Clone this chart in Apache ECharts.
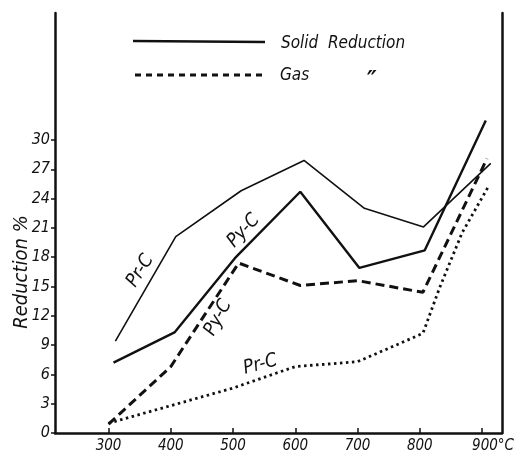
<!DOCTYPE html>
<html><head><meta charset="utf-8">
<script src="https://cdn.jsdelivr.net/npm/echarts@6/dist/echarts.min.js"></script>
<style>html,body{margin:0;padding:0;background:#fff}#c{width:517px;height:459px}</style>
</head><body><div id="c"></div>
<script>
const xTicks = [300, 400, 500, 600, 700, 800, 900];
const yTicks = [0, 3, 6, 9, 12, 15, 18, 21, 24, 27, 30];
const solidPrC = [[311, 9.4], [408, 20.1], [513, 24.8], [614, 27.9], [711, 23.0], [806, 21.1], [914, 27.6]];
const solidPyC = [[308, 7.2], [406, 10.3], [503, 17.9], [608, 24.7], [703, 16.9], [808, 18.7], [906, 32.0]];
const gasPyC = [[300, 0.9], [400, 6.8], [509, 17.4], [608, 15.1], [700, 15.6], [805, 14.4], [908, 28.1]];
const gasPrC = [[300, 1.0], [400, 2.8], [500, 4.6], [600, 6.8], [700, 7.3], [751, 8.7], [805, 10.2], [832, 14.9], [868, 20.5], [909, 25.1]];
const legendTexts = ['Solid  Reduction', 'Gas', '\u2033'];

const FONT = "'Liberation Sans Narrow','DejaVu Sans Condensed','Liberation Sans',sans-serif";
const chart = echarts.init(document.getElementById('c'));
function lbl(txt, coord, rot) {
  return { coord: coord, symbolSize: 0, label: { show: true, formatter: txt, rotate: rot,
    fontFamily: FONT, fontStyle: 'italic', fontSize: 19, color: '#111', position: 'inside' } };
}
chart.setOption({
  backgroundColor: '#fff',
  animation: false,
  grid: { left: 55, right: 10, top: 13, bottom: 26 },
  xAxis: {
    type: 'value', min: 214, max: 932,
    axisLine: { lineStyle: { color: '#111', width: 2.5 } },
    axisTick: { show: true, inside: true, length: 5, customValues: xTicks, lineStyle: { color: '#111', width: 1.5 } },
    axisLabel: { customValues: xTicks, fontFamily: FONT, fontStyle: 'italic', fontSize: 15, color: '#111', margin: 6,
      formatter: v => v === 900 ? '{c|900°C}' : String(v),
      rich: { c: { fontFamily: FONT, fontStyle: 'italic', fontSize: 15, color: '#111', padding: [0, 0, 0, 22] } } },
    splitLine: { show: false }
  },
  yAxis: [{
    type: 'value', min: 0, max: 43,
    axisLine: { show: true, lineStyle: { color: '#111', width: 2.5 } },
    axisTick: { show: true, length: 4, customValues: yTicks, lineStyle: { color: '#111', width: 1.5 } },
    axisLabel: { customValues: yTicks, fontFamily: FONT, fontStyle: 'italic', fontSize: 16, color: '#111', margin: 5 },
    splitLine: { show: false }
  }, {
    type: 'value', min: 0, max: 43, position: 'right',
    axisLine: { show: true, lineStyle: { color: '#111', width: 2.5 } },
    axisTick: { show: false }, axisLabel: { show: false }, splitLine: { show: false }
  }],
  series: [
    { type: 'line', data: solidPrC, symbol: 'none', lineStyle: { color: '#111', width: 1.6 },
      markPoint: { data: [lbl('Pr-C', [351, 16.6], 58)] } },
    { type: 'line', data: solidPyC, symbol: 'none', lineStyle: { color: '#111', width: 2.4 },
      markPoint: { data: [lbl('Py-C', [517, 20.7], 47)] } },
    { type: 'line', data: gasPyC, symbol: 'none', lineStyle: { color: '#111', width: 3, type: [9, 5] },
      markPoint: { data: [lbl('Py-C', [476, 11.8], 62)] } },
    { type: 'line', data: gasPrC, symbol: 'none', lineStyle: { color: '#111', width: 2.8, type: [2.5, 3.5] },
      markPoint: { data: [lbl('Pr-C', [544, 7.0], 15)] } }
  ],
  graphic: [
    { type: 'line', shape: { x1: 133, y1: 41, x2: 265, y2: 42 }, style: { stroke: '#111', lineWidth: 2.5 } },
    { type: 'text', x: 281, y: 44, style: { text: legendTexts[0], font: "italic 17px " + FONT, fill: '#111', verticalAlign: 'middle' } },
    { type: 'line', shape: { x1: 135, y1: 75, x2: 262, y2: 75 }, style: { stroke: '#111', lineWidth: 3, lineDash: [6, 5] } },
    { type: 'text', x: 280, y: 76, style: { text: legendTexts[1], font: "italic 17px " + FONT, fill: '#111', verticalAlign: 'middle' } },
    { type: 'text', x: 367, y: 82, style: { text: legendTexts[2], font: "italic bold 24px " + FONT, fill: '#111', verticalAlign: 'middle' } },
    { type: 'text', x: 22, y: 272, rotation: Math.PI / 2, style: { text: 'Reduction %', font: "italic 20px " + FONT, fill: '#111', align: 'center', verticalAlign: 'middle' } }
  ]
});
</script></body></html>
